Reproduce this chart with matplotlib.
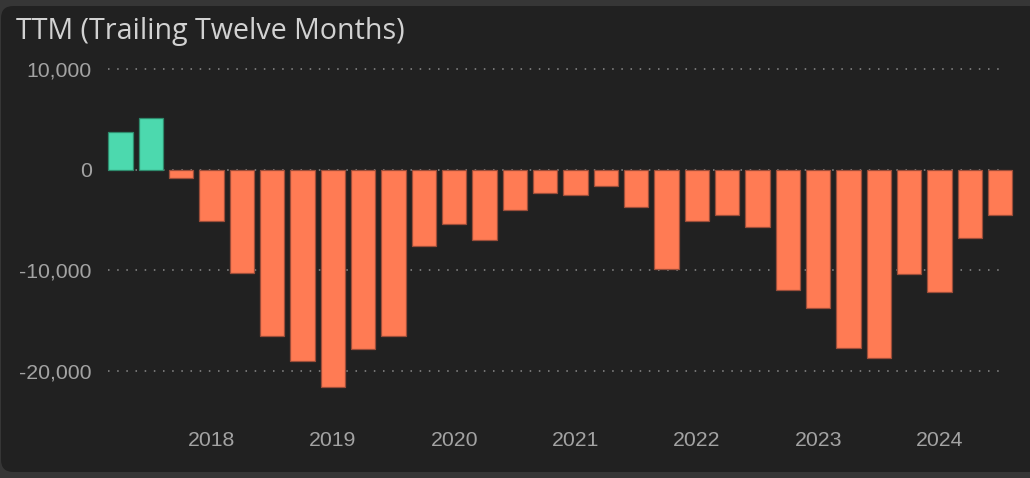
import matplotlib
matplotlib.use("Agg")
import matplotlib.pyplot as plt
from matplotlib.patches import FancyBboxPatch
from matplotlib.ticker import FuncFormatter

# ---------------- DATA ----------------
quarters = [
    "2017Q2", "2017Q3", "2017Q4",
    "2018Q1", "2018Q2", "2018Q3", "2018Q4",
    "2019Q1", "2019Q2", "2019Q3", "2019Q4",
    "2020Q1", "2020Q2", "2020Q3", "2020Q4",
    "2021Q1", "2021Q2", "2021Q3", "2021Q4",
    "2022Q1", "2022Q2", "2022Q3", "2022Q4",
    "2023Q1", "2023Q2", "2023Q3", "2023Q4",
    "2024Q1", "2024Q2", "2024Q3",
]
ttm_values = [
    3800, 5150, -810,
    -5120, -10300, -16550, -19000,
    -21650, -17850, -16500, -7630,
    -5350, -7000, -4020, -2270,
    -2470, -1580, -3700, -9900,
    -5110, -4460, -5740, -11930,
    -13790, -17760, -18700, -10370,
    -12130, -6790, -4510,
]
y_ticks = [10000, 0, -10000, -20000]

# ---------------- STYLE ----------------
BG_OUTER = "#363636"
BG_PANEL = "#212121"
POS_COLOR = "#4cd9ae"
POS_EDGE = "#2e8a6c"
NEG_COLOR = "#ff7b54"
NEG_EDGE = "#9c4d39"
TICK_COLOR = "#a3a3a3"
GRID_COLOR = "#8c8c8c"

W, H = 1030, 478
fig = plt.figure(figsize=(W / 100, H / 100), dpi=100)
fig.patch.set_facecolor(BG_OUTER)

# rounded dark card (behind the axes)
card = FancyBboxPatch((1 / W, 6 / H), 1040 / W, 466 / H,
                      boxstyle="round,pad=0,rounding_size=0.012",
                      transform=fig.transFigure, facecolor=BG_PANEL,
                      edgecolor="none", mutation_aspect=W / H, zorder=-10)
fig.patches.append(card)

fig.text(16 / W, 1 - 39.5 / H, "TTM (Trailing Twelve Months)",
         fontfamily="Open Sans", fontsize=20.6, color="#d2d2d2",
         va="baseline", ha="left")

ax_top, ax_bot = 60, 395
ax = fig.add_axes([108.3 / W, 1 - ax_bot / H, (1003 - 108.3) / W, (ax_bot - ax_top) / H])
ax.set_facecolor("none")
ax.set_zorder(5)

x = list(range(len(quarters)))
colors = [POS_COLOR if v >= 0 else NEG_COLOR for v in ttm_values]
edges = [POS_EDGE if v >= 0 else NEG_EDGE for v in ttm_values]
bars = ax.bar(x, ttm_values, width=0.8, color=colors, edgecolor=edges,
              linewidth=0.9, zorder=3)
for b in bars:
    b.set_clip_on(False)

# y range mapped from pixel positions of the gridlines
px_per_unit = (370.7 - 69.3) / 30000
ax.set_ylim(-20000 - (ax_bot - 370.7) / px_per_unit,
            10000 + (69.3 - ax_top) / px_per_unit)
ax.set_xlim(-0.4, 29.09)

ax.set_yticks(y_ticks)
ax.yaxis.set_major_formatter(FuncFormatter(lambda v, p: f"{int(v):,}"))
year_pos = [i for i, q in enumerate(quarters) if q.endswith("Q1")]
ax.set_xticks(year_pos)
ax.set_xticklabels([quarters[i][:4] for i in year_pos])

ax.tick_params(axis="both", length=0, colors=TICK_COLOR, labelsize=15.3)
ax.tick_params(axis="y", pad=12)
ax.tick_params(axis="x", pad=26)
for lab in ax.get_xticklabels() + ax.get_yticklabels():
    lab.set_fontfamily("Liberation Sans")

ax.grid(axis="y", color=GRID_COLOR, linestyle=(0, (1, 5)), linewidth=1.1)
ax.set_axisbelow(True)
for s in ax.spines.values():
    s.set_visible(False)

fig.savefig("out.png", dpi=100, facecolor=fig.get_facecolor())
